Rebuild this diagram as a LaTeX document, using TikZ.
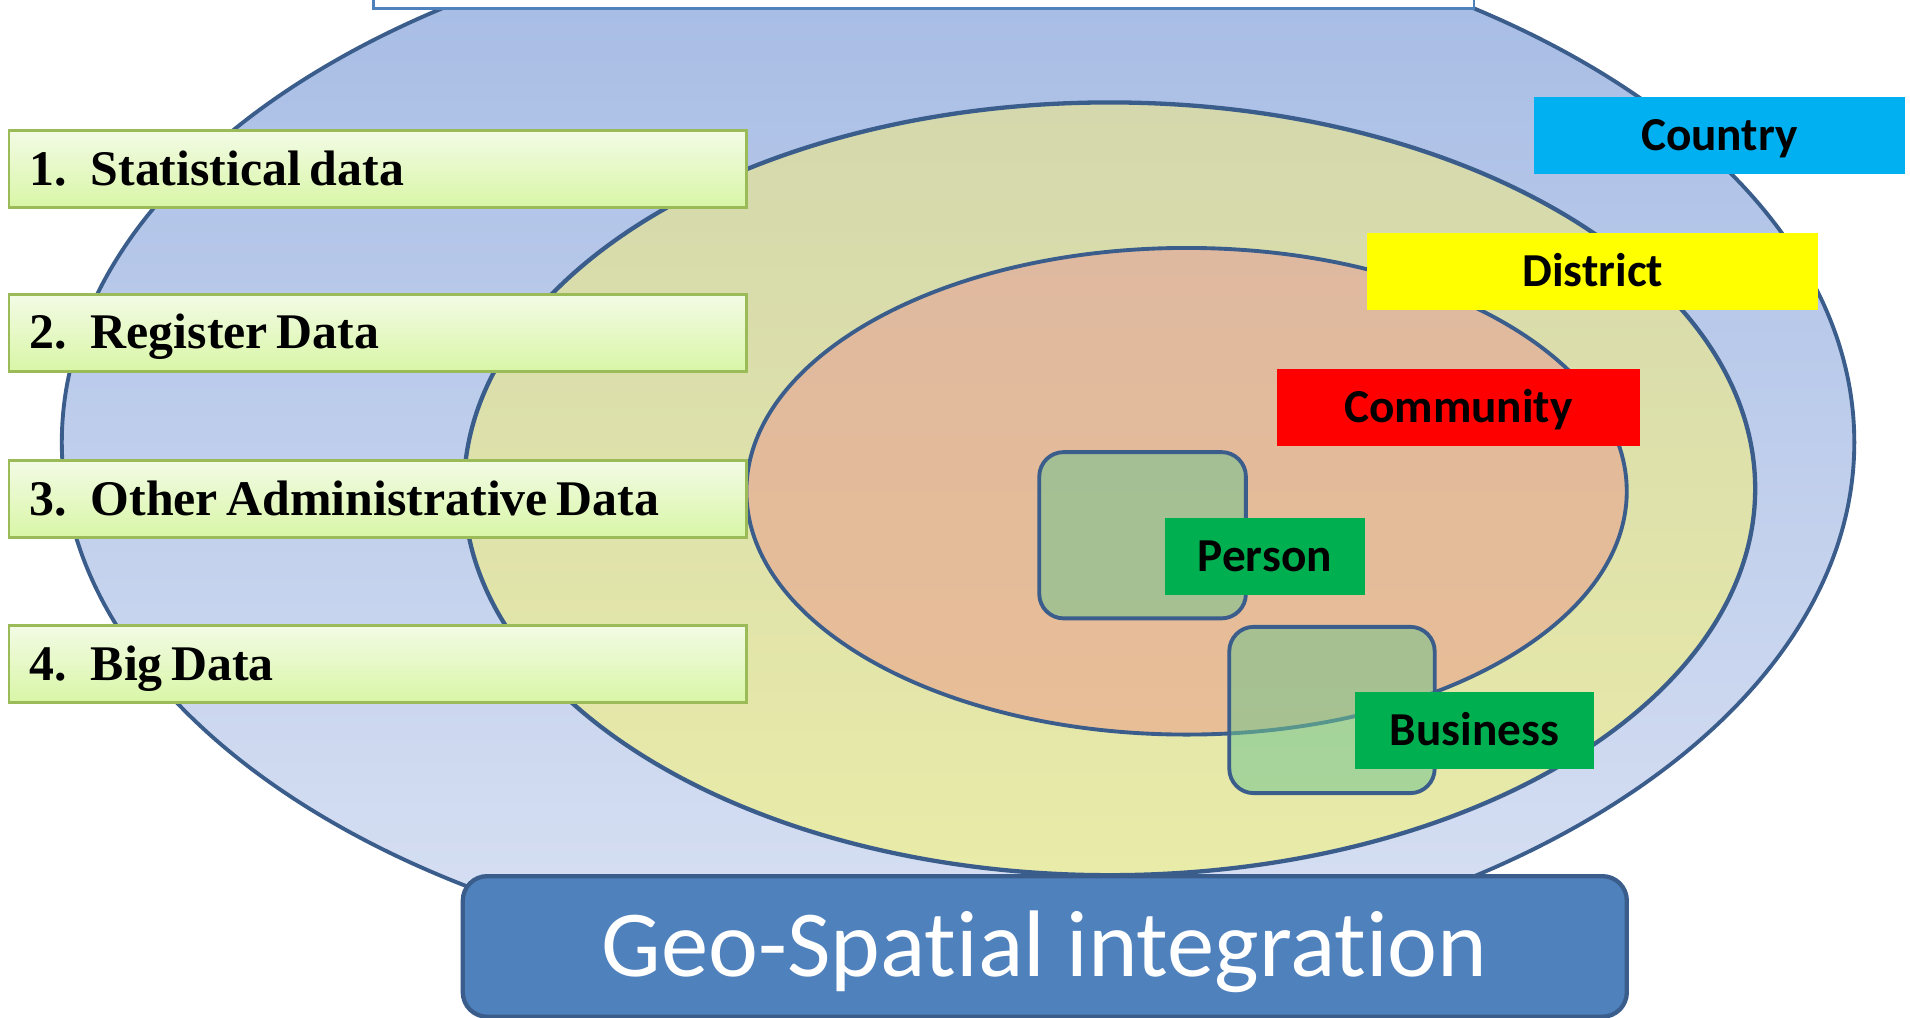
\documentclass[tikz,border=0pt]{standalone}
\usepackage{fontspec}
\setmainfont{Liberation Serif}
\newfontfamily\labelfont{Carlito}[Ligatures=NoCommon]
\usetikzlibrary{shapes.geometric}
\definecolor{edgeblue}{HTML}{3A5D8C}
\definecolor{outertop}{HTML}{A4BAE4}
\definecolor{outerbot}{HTML}{D9E1F3}
\definecolor{midtop}{HTML}{D4D8AC}
\definecolor{midbot}{HTML}{E9EBA8}
\definecolor{innertop}{HTML}{DFB99F}
\definecolor{innerbot}{HTML}{E8BE96}
\definecolor{areagreen}{HTML}{72C48E}
\definecolor{boxgreen}{HTML}{9BBB59}
\definecolor{boxtop}{HTML}{F3FBE5}
\definecolor{boxbot}{HTML}{D8F6A6}
\definecolor{topline}{HTML}{4F81BD}
\definecolor{geoblue}{HTML}{4F81BD}
\definecolor{tagcyan}{HTML}{00B0F0}
\definecolor{tagyellow}{HTML}{FFFF00}
\definecolor{tagred}{HTML}{FF0000}
\definecolor{taggreen}{HTML}{00B050}
\tikzset{
  ring/.style={ellipse, draw=edgeblue, inner sep=0pt},
  area/.style={draw=edgeblue, line width=0.9pt, rounded corners=2mm, fill=areagreen, fill opacity=0.55, draw opacity=1, inner sep=0pt},
  tag/.style={minimum height=0.63cm, inner sep=0pt, font=\labelfont\bfseries\fontsize{11}{13}\selectfont, text height=2.45mm, text depth=0pt},
  databox/.style={draw=boxgreen, line width=0.6pt, top color=boxtop, bottom color=boxbot, minimum height=0.63cm, text width=5.69cm, align=left, inner xsep=1.7mm, inner ysep=0pt, text height=2.6mm, text depth=0pt, font=\bfseries\fontsize{11.6}{13}\selectfont}
}
\newcommand{\dataline}[2]{\spaceskip=2pt plus 0.3pt\relax\makebox[14.2pt][l]{#1}#2}
\begin{document}
\begin{tikzpicture}[x=0.01cm,y=-0.01cm]
\useasboundingbox (0,0) rectangle (1563,833);
\fill[white] (0,0) rectangle (1563,833);
% rings
\node[ring, line width=0.9pt, top color=outertop, bottom color=outerbot, minimum width=14.66cm, minimum height=8.68cm] (country area) at (784,362) {};
\node[draw=topline, line width=0.6pt, fill=white, minimum width=9.00cm, minimum height=0.5cm, inner sep=0pt] (topbox) at (756,-18) {};
\node[ring, line width=1pt, top color=midtop, bottom color=midbot, minimum width=10.56cm, minimum height=6.32cm] (district area) at (908,400) {};
\node[ring, line width=0.9pt, top color=innertop, bottom color=innerbot, minimum width=7.20cm, minimum height=3.98cm] (community area) at (971,402) {};
% person / business areas
\node[area, minimum width=1.69cm, minimum height=1.36cm] (person area) at (935,438) {};
\node[area, minimum width=1.68cm, minimum height=1.36cm] (business area) at (1090,581) {};
% tags
\node[tag, fill=tagcyan, minimum width=3.03cm] (country) at (1407,110.5) {Country};
\node[tag, fill=tagyellow, minimum width=3.69cm] (district) at (1303.5,222) {District};
\node[tag, fill=tagred, minimum width=2.97cm] (community) at (1193.5,333.5) {Community};
\node[tag, fill=taggreen, minimum width=1.64cm] (person) at (1035,455.5) {Person};
\node[tag, fill=taggreen, minimum width=1.95cm] (business) at (1206.5,598) {Business};
% data boxes
\node[databox] (d1) at (309,138.5) {\dataline{1.}{Statistical data}};
\node[databox] (d2) at (309,272.5) {\dataline{2.}{Register Data}};
\node[databox] (d3) at (309,408.5) {\dataline{3.}{Other Administrative Data}};
\node[databox] (d4) at (309,543.5) {\dataline{4.}{Big Data}};
% geo box
\node[draw=edgeblue, line width=1pt, fill=geoblue, rounded corners=2mm, minimum width=9.52cm, minimum height=1.15cm, inner sep=0pt, text=white, font=\labelfont\fontsize{22}{26}\selectfont, text height=4.9mm, text depth=0pt] (geo) at (855,774.5) {Geo-Spatial integration};
\end{tikzpicture}
\end{document}
